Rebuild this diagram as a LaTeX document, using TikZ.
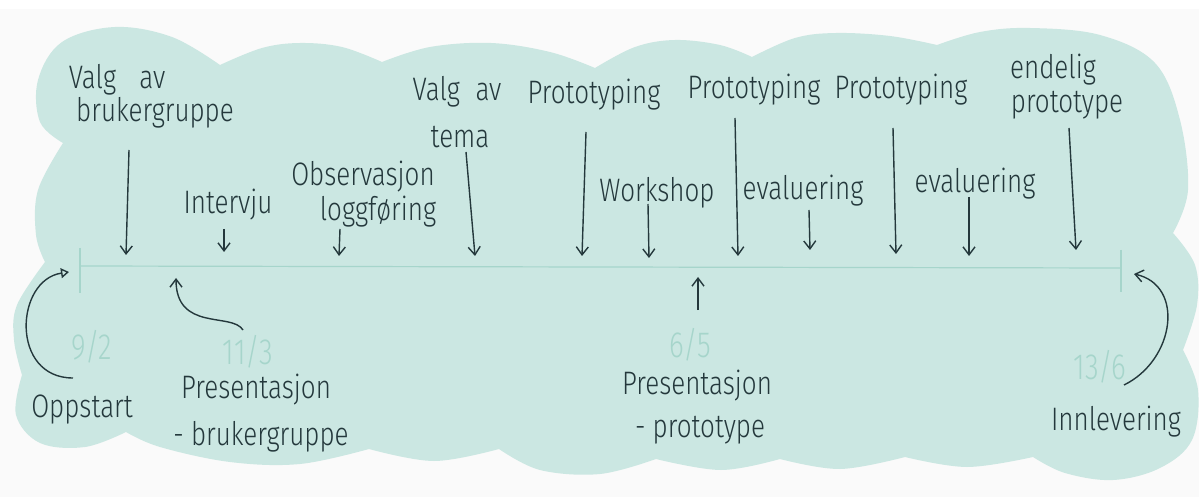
\documentclass[tikz,border=0pt]{standalone}
\usepackage{fontspec}
\setmainfont{Fira Sans}[UprightFont={* Light}]
\usetikzlibrary{arrows.meta}
\definecolor{mint}{RGB}{203,231,226}
\definecolor{ink}{RGB}{36,56,60}
\definecolor{pale}{RGB}{166,213,203}
\definecolor{paper}{RGB}{250,250,250}
\begin{document}
\begin{tikzpicture}[x=0.5pt,y=-0.5pt,
  hw/.style={font=\fontsize{13}{14}\selectfont, text=ink, inner sep=0pt, yscale=1.25, transform shape},
  dt/.style={font=\fontsize{14}{15}\selectfont, text=pale, inner sep=0pt, yscale=1.3, transform shape},
  arr/.style={draw=ink, line width=0.7pt, -{Straight Barb[length=4pt,width=6pt]}},
  arrtri/.style={draw=ink, line width=0.7pt, -{Triangle[open,length=4pt,width=5pt]}},
  tl/.style={draw=pale, line width=0.6pt}]
% background
\fill[paper] (0,0) rectangle (1199,497);
\fill[white] (0,0) rectangle (1199,9);
\useasboundingbox (0,0) rectangle (1199,497);
% cloud
\fill[mint] (63,143)
 -- plot[smooth,tension=0.6] coordinates {(63,143) (40,122) (38,80) (62,42) (115,27) (172,37) (220,65)}
 -- plot[smooth,tension=0.6] coordinates {(220,65) (262,48) (300,43) (342,47) (382,62)}
 -- plot[smooth,tension=0.6] coordinates {(382,62) (430,47) (491,43) (550,52) (595,68)}
 -- plot[smooth,tension=0.6] coordinates {(595,68) (635,47) (675,40) (720,45) (752,57)}
 -- plot[smooth,tension=0.6] coordinates {(752,57) (795,38) (836,33) (890,36) (937,45)}
 -- plot[smooth,tension=0.6] coordinates {(937,45) (980,32) (1030,28) (1100,35) (1155,63) (1180,120) (1188,190) (1173,233)}
 -- plot[smooth,tension=0.6] coordinates {(1173,233) (1195,265) (1197,305) (1183,350)}
 -- plot[smooth,tension=0.6] coordinates {(1183,350) (1198,390) (1192,440) (1160,468) (1113,480) (1065,473) (1033,457)}
 -- plot[smooth,tension=0.6] coordinates {(1033,457) (967,467) (905,457)}
 -- plot[smooth,tension=0.6] coordinates {(905,457) (840,469) (780,459)}
 -- plot[smooth,tension=0.6] coordinates {(780,459) (721,470) (656,459)}
 -- plot[smooth,tension=0.6] coordinates {(656,459) (600,474) (540,470) (499,449)}
 -- plot[smooth,tension=0.6] coordinates {(499,449) (434,461) (369,449)}
 -- plot[smooth,tension=0.6] coordinates {(369,449) (300,464) (230,462) (160,447) (126,432)}
 -- plot[smooth,tension=0.6] coordinates {(126,432) (85,447) (40,443) (16,415) (22,375)}
 -- plot[smooth,tension=0.6] coordinates {(22,375) (14,340) (17,305) (45,262)}
 -- plot[smooth,tension=0.6] coordinates {(45,262) (36,235) (38,190) (63,143)}
 -- cycle;
% timeline
\coordinate (tlL) at (80,266);
\coordinate (tlR) at (1121,268);
\coordinate (tkLa) at (80,248);
\coordinate (tkLb) at (80,293);
\coordinate (tkRa) at (1121,250);
\coordinate (tkRb) at (1121,292);
\draw[tl] (tlL) -- (tlR);
\draw[tl] (tkLa) -- (tkLb);
\draw[tl] (tkRa) -- (tkRb);
% top labels
\node[hw] (v1a) at (117,80) {Valg\hspace{0.9em}av};
\node[hw] (v1b) at (155,113) {brukergruppe};
\node[hw] (int) at (228,205) {Intervju};
\node[hw] (obs1) at (363,177) {Observasjon};
\node[hw] (obs2) at (378,212) {loggføring};
\node[hw] (v2a) at (457,92) {Valg\hspace{0.6em}av};
\node[hw] (v2b) at (460,137) {tema};
\node[hw] (p1) at (594,95) {Prototyping};
\node[hw] (ws) at (657,193) {Workshop};
\node[hw] (p2) at (754,90) {Prototyping};
\node[hw] (ev1) at (803,191) {evaluering};
\node[hw] (p3) at (901,90) {Prototyping};
\node[hw] (ev2) at (975,184) {evaluering};
\node[hw] (en1) at (1053,70) {endelig};
\node[hw] (en2) at (1067,105) {prototype};
% dates
\node[dt] (d1) at (92,347) {9/2};
\node[dt] (d2) at (248,352) {11/3};
\node[dt] (d3) at (690,345) {6/5};
\node[dt] (d4) at (1100,367) {13/6};
% bottom labels
\node[hw] (opp) at (82,410) {Oppstart};
\node[hw] (pr1a) at (256,390) {Presentasjon};
\node[hw] (pr1b) at (261,437) {- brukergruppe};
\node[hw] (pr2a) at (697,386) {Presentasjon};
\node[hw] (pr2b) at (700,430) {- prototype};
\node[hw] (inn) at (1116,422) {Innlevering};
% arrow end points
\coordinate (a1s) at (129,150);  \coordinate (a1e) at (126,255);
\coordinate (a2s) at (224,229);  \coordinate (a2e) at (224,252);
\coordinate (a3s) at (340,229);  \coordinate (a3e) at (339,256);
\coordinate (a4s) at (466,152);  \coordinate (a4e) at (475,256);
\coordinate (a5s) at (586,132);  \coordinate (a5e) at (582,256);
\coordinate (a6s) at (648,204);  \coordinate (a6e) at (649,258);
\coordinate (a7s) at (735,118);  \coordinate (a7e) at (738,256);
\coordinate (a8s) at (809,210);  \coordinate (a8e) at (810,250);
\coordinate (a9s) at (893,128);  \coordinate (a9e) at (896,254);
\coordinate (a10s) at (969,197); \coordinate (a10e) at (969,256);
\coordinate (a11s) at (1069,128); \coordinate (a11e) at (1076,250);
\coordinate (ups) at (698,310);  \coordinate (upe) at (698,277);
\foreach \i in {1,...,11} {\draw[arr] (a\i s) -- (a\i e);}
\draw[arr] (ups) -- (upe);
% curved arrows
\coordinate (oS) at (73,378); \coordinate (oE) at (69,272);
\draw[arrtri] (oS) .. controls (10,378) and (15,280) .. (oE);
\coordinate (bS) at (243,330); \coordinate (bE) at (176,278);
\draw[arr] (bS) .. controls (232,312) and (176,332) .. (bE);
\coordinate (iS) at (1124,385); \coordinate (iE) at (1134,274);
\draw[arr] (iS) .. controls (1175,360) and (1185,285) .. (iE);
\end{tikzpicture}
\end{document}
